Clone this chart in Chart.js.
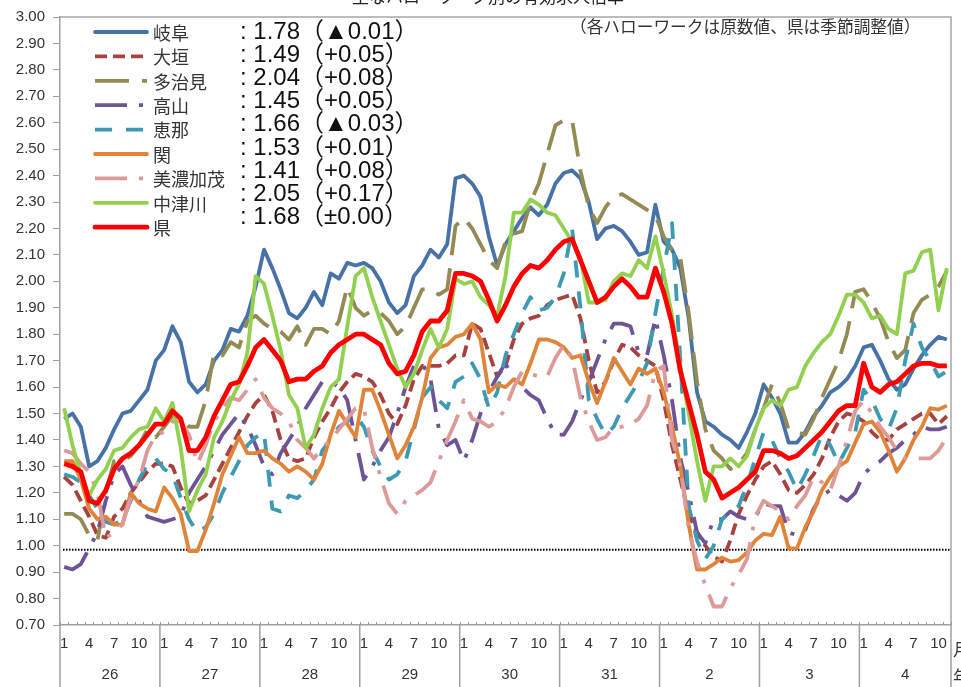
<!DOCTYPE html>
<html>
<head>
<meta charset="utf-8">
<script src="https://cdn.jsdelivr.net/npm/chart.js@4/dist/chart.umd.min.js"></script>
<style>
  html, body { margin: 0; padding: 0; background: #fff; }
  canvas { display: block; }
</style>
</head>
<body>
<canvas id="myChart" width="961" height="687"></canvas>
<script>
// years on the axis (Heisei 26-31, Reiwa 2-4) and months per year
const years = ['26', '27', '28', '29', '30', '31', '2', '3', '4'];
const monthsPerYear = [12, 12, 12, 12, 12, 12, 12, 12, 11];
const shownMonths = [1, 4, 7, 10];
const yTicks = { min: 0.70, max: 3.00, step: 0.10 };
const refLevel = 0.985;

const monthLabels = [];
monthsPerYear.forEach(n => { for (let m = 1; m <= n; m++) monthLabels.push(m); });

// series, one value per month
const gifu = [
  1.48,1.50,1.45,1.30,1.32,1.37,1.44,1.50,1.51,1.55,1.59,1.70,
  1.74,1.83,1.77,1.62,1.58,1.61,1.70,1.74,1.82,1.81,1.87,1.98,
  2.12,2.05,1.97,1.88,1.86,1.90,1.96,1.91,2.03,2.01,2.07,2.06,
  2.07,2.05,2.00,1.92,1.88,1.91,2.02,2.06,2.12,2.09,2.14,2.39,
  2.40,2.37,2.32,2.17,2.06,2.14,2.19,2.24,2.28,2.25,2.29,2.37,
  2.41,2.42,2.39,2.30,2.16,2.20,2.21,2.19,2.15,2.10,2.11,2.29,
  2.15,2.12,2.05,1.86,1.58,1.47,1.45,1.42,1.40,1.37,1.43,1.50,
  1.61,1.56,1.50,1.39,1.39,1.43,1.49,1.53,1.58,1.60,1.63,1.68,
  1.75,1.76,1.70,1.63,1.59,1.61,1.67,1.72,1.76,1.79,1.78
];
const ogaki = [
  1.26,1.23,1.17,1.11,1.04,1.03,1.11,1.14,1.20,1.24,1.28,1.31,
  1.31,1.30,1.22,1.16,1.17,1.19,1.25,1.31,1.37,1.43,1.49,1.54,
  1.57,1.51,1.40,1.33,1.32,1.33,1.41,1.47,1.52,1.58,1.62,1.65,
  1.64,1.62,1.57,1.50,1.46,1.53,1.63,1.68,1.68,1.68,1.69,1.72,
  1.72,1.84,1.82,1.73,1.64,1.68,1.78,1.84,1.86,1.87,1.91,1.93,
  1.94,1.95,1.86,1.70,1.58,1.62,1.70,1.76,1.75,1.72,1.70,1.68,
  1.55,1.38,1.25,1.12,1.05,1.00,0.96,0.94,1.02,1.12,1.19,1.25,
  1.30,1.32,1.27,1.21,1.20,1.23,1.27,1.33,1.41,1.47,1.50,1.49,
  1.47,1.43,1.40,1.40,1.44,1.46,1.48,1.50,1.50,1.46,1.49
];
const tajimi = [
  1.12,1.12,1.10,1.04,1.02,1.20,1.32,1.32,1.34,1.38,1.44,1.41,
  1.45,1.49,1.49,1.45,1.45,1.55,1.73,1.72,1.77,1.75,1.85,1.87,
  1.84,1.82,1.81,1.78,1.83,1.76,1.82,1.82,1.80,1.85,1.98,1.90,
  1.87,1.89,1.88,1.85,1.80,1.83,1.90,1.97,1.97,1.95,1.97,2.21,
  2.24,2.20,2.14,2.08,2.05,2.15,2.18,2.19,2.30,2.37,2.48,2.59,
  2.61,2.61,2.42,2.28,2.22,2.28,2.32,2.33,2.31,2.29,2.27,2.25,
  2.17,2.12,2.09,1.88,1.62,1.44,1.36,1.33,1.29,1.31,1.35,1.44,
  1.52,1.61,1.54,1.44,1.43,1.42,1.48,1.56,1.63,1.70,1.80,1.96,
  1.97,1.92,1.86,1.77,1.71,1.74,1.88,1.93,1.95,1.98,2.04
];
const takayama = [
  0.92,0.91,0.93,0.99,1.05,1.17,1.27,1.30,1.23,1.17,1.11,1.10,
  1.09,1.10,1.11,1.20,1.25,1.30,1.36,1.42,1.46,1.50,1.45,1.38,
  1.30,1.27,1.35,1.40,1.45,1.52,1.57,1.62,1.62,1.60,1.55,1.40,
  1.25,1.30,1.36,1.41,1.50,1.60,1.68,1.69,1.63,1.44,1.38,1.40,
  1.32,1.40,1.50,1.58,1.64,1.69,1.63,1.60,1.57,1.55,1.48,1.42,
  1.42,1.47,1.55,1.62,1.70,1.78,1.84,1.84,1.83,1.73,1.72,1.86,
  1.72,1.55,1.33,1.20,1.05,1.01,1.10,1.10,1.13,1.11,1.10,1.11,
  1.16,1.15,1.15,1.05,1.04,1.06,1.14,1.19,1.21,1.19,1.17,1.20,
  1.27,1.30,1.32,1.35,1.37,1.40,1.42,1.45,1.44,1.44,1.45
];
const ena = [
  1.27,1.26,1.24,1.19,1.14,1.09,1.08,1.10,1.17,1.25,1.31,1.33,
  1.29,1.27,1.18,1.10,1.05,1.07,1.12,1.20,1.26,1.32,1.38,1.41,
  1.43,1.14,1.13,1.19,1.18,1.21,1.25,1.36,1.40,1.45,1.47,1.49,
  1.45,1.36,1.30,1.25,1.27,1.32,1.44,1.56,1.60,1.55,1.52,1.62,
  1.64,1.69,1.63,1.52,1.58,1.72,1.80,1.88,1.94,1.89,1.90,1.94,
  2.03,2.20,1.90,1.55,1.48,1.42,1.45,1.52,1.57,1.62,1.69,1.88,
  2.05,2.22,1.70,1.15,1.02,0.95,1.00,1.10,1.13,1.15,1.23,1.33,
  1.43,1.40,1.33,1.28,1.21,1.27,1.34,1.42,1.38,1.31,1.37,1.43,
  1.59,1.55,1.48,1.44,1.52,1.70,1.84,1.75,1.70,1.64,1.66
];
const seki = [
  1.32,1.32,1.25,1.14,1.10,1.11,1.08,1.08,1.20,1.16,1.14,1.13,
  1.22,1.18,1.12,0.98,0.98,1.06,1.16,1.27,1.34,1.41,1.35,1.35,
  1.36,1.33,1.31,1.28,1.30,1.28,1.25,1.31,1.42,1.51,1.46,1.41,
  1.59,1.59,1.51,1.42,1.33,1.38,1.45,1.56,1.71,1.75,1.76,1.79,
  1.80,1.84,1.78,1.58,1.61,1.60,1.63,1.61,1.69,1.78,1.78,1.77,
  1.75,1.71,1.72,1.62,1.54,1.62,1.71,1.66,1.61,1.67,1.65,1.67,
  1.58,1.45,1.30,1.08,0.91,0.91,0.93,0.955,0.94,0.945,0.975,1.02,
  1.045,1.04,1.11,0.99,0.99,1.07,1.13,1.21,1.26,1.30,1.32,1.39,
  1.46,1.47,1.43,1.36,1.28,1.33,1.40,1.45,1.52,1.515,1.53
];
const minokamo = [
  1.36,1.35,1.31,1.28,1.20,1.03,1.05,1.08,1.18,1.25,1.36,1.42,
  1.43,1.47,1.47,1.42,1.31,1.38,1.47,1.52,1.56,1.55,1.59,1.63,
  1.56,1.52,1.50,1.47,1.40,1.37,1.33,1.37,1.40,1.44,1.48,1.52,
  1.52,1.37,1.26,1.16,1.12,1.17,1.19,1.21,1.24,1.32,1.40,1.47,
  1.55,1.48,1.47,1.45,1.47,1.52,1.60,1.66,1.65,1.64,1.64,1.71,
  1.76,1.71,1.56,1.47,1.40,1.41,1.45,1.45,1.46,1.48,1.53,1.66,
  1.68,1.40,1.30,1.06,0.94,0.85,0.77,0.77,0.84,0.89,0.95,1.11,
  1.17,1.15,1.13,1.10,1.15,1.19,1.26,1.24,1.21,1.30,1.40,1.51,
  1.55,1.50,1.45,1.41,1.36,1.33,1.33,1.33,1.33,1.36,1.41
];
const nakatsugawa = [
  1.52,1.38,1.27,1.19,1.25,1.29,1.36,1.37,1.41,1.44,1.45,1.52,
  1.47,1.54,1.37,1.13,1.21,1.27,1.41,1.47,1.55,1.61,1.73,2.02,
  1.99,1.87,1.74,1.57,1.52,1.37,1.42,1.52,1.60,1.63,1.83,2.02,
  2.05,1.94,1.85,1.76,1.67,1.60,1.65,1.74,1.82,1.75,1.82,2.01,
  1.99,2.00,1.94,1.91,1.87,2.02,2.26,2.26,2.31,2.29,2.26,2.25,
  2.20,2.15,2.09,1.92,1.92,1.93,2.00,2.03,2.02,2.08,2.05,2.17,
  2.03,1.87,1.68,1.50,1.32,1.17,1.30,1.30,1.33,1.30,1.34,1.44,
  1.52,1.55,1.53,1.59,1.60,1.68,1.73,1.77,1.80,1.87,1.95,1.95,
  1.92,1.86,1.87,1.82,1.80,2.03,2.04,2.11,2.12,1.89,2.05
];
const ken = [
  1.31,1.30,1.28,1.17,1.16,1.21,1.29,1.33,1.35,1.38,1.42,1.46,
  1.46,1.51,1.48,1.36,1.36,1.41,1.49,1.55,1.61,1.62,1.68,1.75,
  1.78,1.74,1.70,1.62,1.63,1.63,1.66,1.68,1.73,1.76,1.78,1.80,
  1.80,1.78,1.76,1.69,1.65,1.66,1.72,1.81,1.85,1.85,1.89,2.03,
  2.03,2.02,2.00,1.93,1.85,1.91,1.98,2.03,2.06,2.05,2.08,2.12,
  2.15,2.16,2.08,2.00,1.92,1.94,1.98,2.01,1.98,1.94,1.94,2.05,
  1.96,1.84,1.66,1.54,1.42,1.28,1.25,1.18,1.20,1.22,1.25,1.28,
  1.36,1.36,1.35,1.33,1.34,1.37,1.40,1.43,1.47,1.51,1.53,1.53,
  1.69,1.60,1.58,1.61,1.62,1.65,1.68,1.69,1.69,1.68,1.68
];

const seriesNames = ['岐阜', '大垣', '多治見', '高山', '恵那', '関', '美濃加茂', '中津川', '県'];
const latestText = [
  ': 1.78（▲0.01）', ': 1.49（+0.05）', ': 2.04（+0.08）', ': 1.45（+0.05）', ': 1.66（▲0.03）',
  ': 1.53（+0.01）', ': 1.41（+0.08）', ': 2.05（+0.17）', ': 1.68（±0.00）'
];
const seriesData = [gifu, ogaki, tajimi, takayama, ena, seki, minokamo, nakatsugawa, ken];

// styles
const colors = ['#4672a8', '#a8423f', '#948a54', '#6e5496', '#3d9ab3', '#e0843a', '#dc9a98', '#92d050', '#ff0000'];
const dashes = [[], [12, 6], [34, 13], [32, 12, 4, 12], [17, 14], [], [32, 12, 4, 12], [], []];
const widths = [3.8, 3.8, 3.8, 3.8, 3.8, 3.8, 3.8, 3.8, 4.8];

const FONT = "'Liberation Sans', 'Noto Sans CJK JP', sans-serif";
const JFONT = "'Noto Sans CJK JP', sans-serif";
Chart.defaults.font.family = FONT;

const datasets = seriesData.map((d, i) => ({
  label: seriesNames[i],
  data: d,
  borderColor: colors[i],
  backgroundColor: colors[i],
  borderWidth: widths[i],
  borderDash: dashes[i],
  borderCapStyle: 'butt',
  borderJoinStyle: 'round',
  pointRadius: 0,
  fill: false,
  tension: 0,
  order: seriesData.length - i
}));

const decor = {
  id: 'decor',
  beforeDatasetsDraw(chart) {
    const { ctx, chartArea: a, scales: { y } } = chart;
    const py = y.getPixelForValue(refLevel);
    ctx.save();
    ctx.strokeStyle = '#000';
    ctx.lineWidth = 2;
    ctx.setLineDash([1.5, 1.5]);
    ctx.beginPath();
    ctx.moveTo(a.left + 3, py);
    ctx.lineTo(a.right, py);
    ctx.stroke();
    ctx.restore();
  },
  afterDraw(chart) {
    const { ctx, chartArea: a, scales: { x } } = chart;
    const H = chart.height;
    ctx.save();

    // plot frame top / right
    ctx.strokeStyle = '#a6a6a6';
    ctx.lineWidth = 1.5;
    ctx.beginPath();
    ctx.moveTo(a.left, a.top);
    ctx.lineTo(a.right, a.top);
    ctx.lineTo(a.right, a.bottom);
    ctx.stroke();

    // month ticks and year separators
    const n = monthLabels.length;
    const half = (x.getPixelForValue(1) - x.getPixelForValue(0)) / 2;
    const edge = i => i < n ? x.getPixelForValue(i) - half : x.getPixelForValue(n - 1) + half;
    ctx.strokeStyle = '#999';
    ctx.lineWidth = 1;
    ctx.beginPath();
    for (let i = 0; i <= n; i++) {
      const px = Math.round(edge(i)) + 0.5;
      ctx.moveTo(px, a.bottom);
      ctx.lineTo(px, a.bottom - 3);
    }
    ctx.stroke();

    ctx.strokeStyle = '#a0a0a0';
    ctx.lineWidth = 1.5;
    ctx.fillStyle = '#333';
    ctx.font = '15px ' + FONT;
    ctx.textAlign = 'center';
    ctx.textBaseline = 'middle';
    let start = 0;
    ctx.beginPath();
    monthsPerYear.forEach((m, k) => {
      const x0 = edge(start), x1 = edge(start + m);
      ctx.moveTo(x0, a.bottom);
      ctx.lineTo(x0, H);
      if (k === monthsPerYear.length - 1) {
        ctx.moveTo(x1, a.bottom);
        ctx.lineTo(x1, H);
      }
      ctx.fillText(years[k], (x0 + x1) / 2, 675);
      start += m;
    });
    ctx.stroke();

    // unit marks at right, clipped by the canvas edge
    ctx.font = '17px ' + JFONT;
    ctx.textAlign = 'left';
    ctx.fillText('月', a.right + 2, 650);
    ctx.fillText('年', a.right + 2, 677);

    // title, mostly above the visible area
    ctx.textAlign = 'center';
    ctx.textBaseline = 'alphabetic';
    ctx.fillStyle = '#222';
    ctx.font = '17px ' + JFONT;
    ctx.fillText('主なハローワーク別の有効求人倍率', 488, 3);

    // note
    ctx.textAlign = 'left';
    ctx.textBaseline = 'middle';
    ctx.fillStyle = '#333';
    ctx.font = '16.7px ' + JFONT;
    ctx.fillText('（各ハローワークは原数値、県は季節調整値）', 570, 27);

    // legend
    seriesNames.forEach((name, i) => {
      const ly = 32 + i * 24.4;
      ctx.save();
      ctx.strokeStyle = colors[i];
      ctx.lineWidth = widths[i];
      ctx.lineCap = dashes[i].length ? 'butt' : 'round';
      ctx.setLineDash(dashes[i]);
      ctx.beginPath();
      ctx.moveTo(95, ly);
      ctx.lineTo(147, ly);
      ctx.stroke();
      ctx.restore();

      ctx.fillStyle = '#333';
      ctx.font = '18px ' + JFONT;
      ctx.fillText(name, 153, ly + 1);

      const vy = 32 + i * 23.2;
      ctx.fillStyle = '#111';
      ctx.font = '24px ' + FONT;
      ctx.fillText(latestText[i], 240, vy);
    });

    ctx.restore();
  }
};

new Chart(document.getElementById('myChart'), {
  type: 'line',
  data: { labels: monthLabels, datasets: datasets },
  options: {
    responsive: false,
    animation: false,
    devicePixelRatio: 1,
    layout: { padding: { top: 14, right: 10, left: 0, bottom: 0 } },
    plugins: { legend: { display: false }, tooltip: { enabled: false } },
    scales: {
      x: {
        type: 'category',
        offset: true,
        grid: { display: false, drawTicks: false },
        border: { display: true, color: '#a0a0a0', width: 1.5 },
        ticks: {
          autoSkip: false, maxRotation: 0, minRotation: 0, padding: 10,
          color: '#333', font: { size: 15 },
          callback: function (v, i) {
            const m = monthLabels[i];
            return shownMonths.includes(m) ? String(m) : '';
          }
        },
        afterFit: s => { s.height = 62; }
      },
      y: {
        min: yTicks.min,
        max: yTicks.max,
        ticks: {
          stepSize: yTicks.step, padding: 8, color: '#333', font: { size: 15 },
          callback: v => v.toFixed(2)
        },
        grid: { drawOnChartArea: false, drawTicks: true, tickLength: 7, color: '#a0a0a0' },
        border: { color: '#a0a0a0', width: 1.5 },
        afterFit: s => { s.width = 60; }
      }
    }
  },
  plugins: [decor]
});
</script>
</body>
</html>
